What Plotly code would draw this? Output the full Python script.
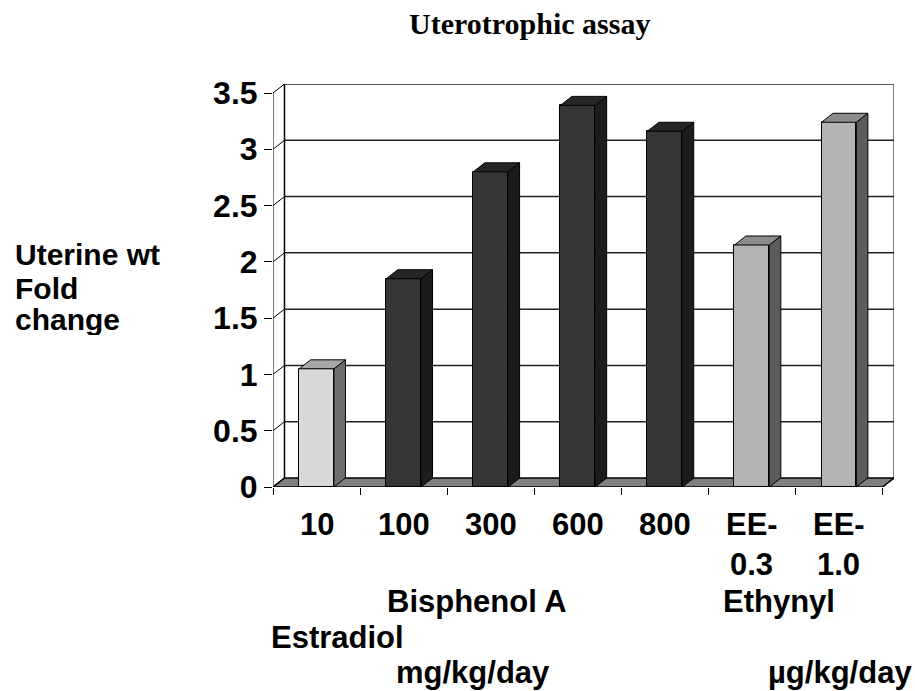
import plotly.graph_objects as go

# ---- data ----
categories = ["10", "100", "300", "600", "800", "EE-0.3", "EE-1.0"]
label_line1 = ["10", "100", "300", "600", "800", "EE-", "EE-"]
label_line2 = ["", "", "", "", "", "0.3", "1.0"]
values = [1.05, 1.85, 2.80, 3.39, 3.16, 2.15, 3.24]
group_of_bar = [0, 1, 1, 1, 1, 2, 2]
y_ticks = [0, 0.5, 1, 1.5, 2, 2.5, 3, 3.5]
y_tick_text = ["0", "0.5", "1", "1.5", "2", "2.5", "3", "3.5"]
title_text = "Uterotrophic assay"
y_label_lines = ["Uterine wt", "Fold", "change"]

# ---- style ----
front_col = ["#d8d8d8", "#363636", "#b4b4b4"]
side_col = ["#6e6e6e", "#1c1c1c", "#5c5c5c"]
top_col = ["#a6a6a6", "#262626", "#8c8c8c"]
floor_col = "#808080"
W, H = 915, 691
ML, MR, MT, MB = 273, 21, 84, 204
DX, DY = 0.132, 0.08      # 3-D depth offset in data units
BW = 0.4                  # bar width
n = len(values)
xs = list(range(n))
x0, x1 = -0.5, n - 0.5
ymax = y_ticks[-1]
sans = "Liberation Sans, Arial, sans-serif"
serif = "Liberation Serif, Times New Roman, serif"
LBL = 31

fig = go.Figure()

# front faces
fig.add_trace(go.Bar(
    x=xs, y=values, width=BW,
    marker=dict(color=[front_col[g] for g in group_of_bar],
                line=dict(color="black", width=1)),
    hoverinfo="skip", showlegend=False))

# side and top faces
for xi, v, g in zip(xs, values, group_of_bar):
    r = xi + BW / 2
    l = xi - BW / 2
    fig.add_trace(go.Scatter(
        x=[r, r + DX, r + DX, r, r], y=[0, DY, v + DY, v, 0],
        mode="lines", fill="toself", fillcolor=side_col[g],
        line=dict(color="black", width=1), hoverinfo="skip", showlegend=False))
    fig.add_trace(go.Scatter(
        x=[l, r, r + DX, l + DX, l], y=[v, v, v + DY, v + DY, v],
        mode="lines", fill="toself", fillcolor=top_col[g],
        line=dict(color="black", width=1), hoverinfo="skip", showlegend=False))

shapes = []
line_k = dict(color="black", width=1)
# floor
shapes.append(dict(type="path", xref="x", yref="y", layer="below",
                   path=f"M {x0},0 L {x1},0 L {x1+DX},{DY} L {x0+DX},{DY} Z",
                   fillcolor=floor_col, line=dict(color="black", width=1.5)))
# back wall gridlines and left wall diagonals
for t in y_ticks:
    if t > 0:
        shapes.append(dict(type="line", xref="x", yref="y", layer="below",
                           x0=x0 + DX, x1=x1 + DX, y0=t + DY, y1=t + DY,
                           line=dict(color="#222222", width=1.5)))
    shapes.append(dict(type="line", xref="x", yref="y", layer="below",
                       x0=x0, x1=x0 + DX, y0=t, y1=t + DY, line=line_k))
# back wall verticals
shapes.append(dict(type="line", xref="x", yref="y", layer="below",
                   x0=x0 + DX, x1=x0 + DX, y0=DY, y1=ymax + DY,
                   line=dict(color="black", width=1.5)))
shapes.append(dict(type="line", xref="x", yref="y", layer="below",
                   x0=x1 + DX, x1=x1 + DX, y0=DY, y1=ymax + DY, line=line_k))
# front y axis line
shapes.append(dict(type="line", xref="x", yref="y", layer="above",
                   x0=x0, x1=x0, y0=0, y1=ymax, line=line_k))

fig.update_layout(shapes=shapes)

plot_h = H - MT - MB
plot_w = W - ML - MR


def px(xp):
    return (xp - ML) / plot_w


def py(yp):
    return (H - MB - yp) / plot_h


ann = []
ann.append(dict(text=title_text, x=px(529), y=py(24), xref="paper", yref="paper",
                showarrow=False, xanchor="center", yanchor="middle",
                font=dict(family=serif, size=30, color="black", weight="bold")))
for line, yc in zip(y_label_lines, [254, 288, 319]):
    ann.append(dict(text=line, x=px(13), y=py(yc), xref="paper", yref="paper",
                    showarrow=False, xanchor="left", yanchor="middle",
                    height=31, valign="middle",
                    font=dict(family=sans, size=30, color="black", weight="bold")))
for xi, a, b in zip(xs, label_line1, label_line2):
    ann.append(dict(text=a, x=xi, y=py(524), xref="x", yref="paper",
                    showarrow=False, xanchor="center", yanchor="middle",
                    font=dict(family=sans, size=LBL, color="black", weight="bold")))
    if b:
        ann.append(dict(text=b, x=xi, y=py(564), xref="x", yref="paper",
                        showarrow=False, xanchor="center", yanchor="middle",
                        font=dict(family=sans, size=LBL, color="black", weight="bold")))
group_labels = [("Bisphenol A", 477, 601), ("Ethynyl", 779, 601),
                ("Estradiol", 337, 637), ("mg/kg/day", 473, 672),
                ("µg/kg/day", 840, 672)]
for txt, gx, gy in group_labels:
    ann.append(dict(text=txt, x=px(gx), y=py(gy), xref="paper", yref="paper",
                    showarrow=False, xanchor="center", yanchor="middle",
                    font=dict(family=sans, size=LBL, color="black", weight="bold")))

fig.update_layout(
    annotations=ann,
    width=W, height=H,
    margin=dict(l=ML, r=MR, t=MT, b=MB, pad=0),
    paper_bgcolor="white", plot_bgcolor="white",
    showlegend=False,
    bargap=0,
    xaxis=dict(range=[x0, x1 + DX], tickvals=[k - 0.5 for k in range(n + 1)],
               ticks="outside", ticklen=7, tickcolor="black", tickwidth=1,
               showticklabels=False, showgrid=False, zeroline=False,
               showline=False, fixedrange=True),
    yaxis=dict(range=[0, ymax + DY], tickvals=y_ticks, ticktext=y_tick_text,
               ticks="outside", ticklen=8, tickcolor="black", tickwidth=1,
               tickfont=dict(family=sans, size=32, color="black", weight="bold"),
               showgrid=False, zeroline=False, showline=False, fixedrange=True),
)

fig.write_html("out.html", post_script="document.body.style.margin='0';",
               config={"displayModeBar": False})
